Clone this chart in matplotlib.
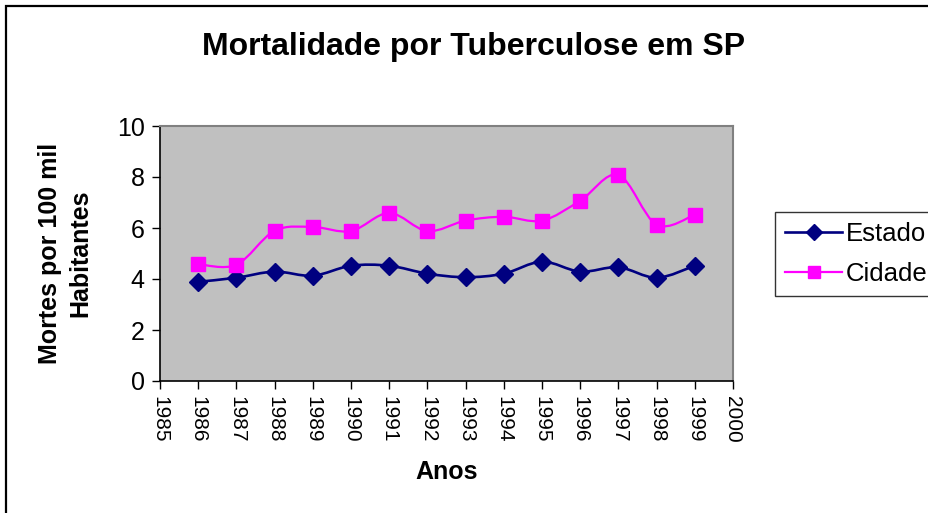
import matplotlib
matplotlib.use("Agg")
import matplotlib.pyplot as plt
from matplotlib.path import Path
from matplotlib.patches import PathPatch, Rectangle
from matplotlib.lines import Line2D
import numpy as np

plt.rcParams['font.family'] = ['Liberation Sans', 'DejaVu Sans']

anos = [1986, 1987, 1988, 1989, 1990, 1991, 1992, 1993, 1994, 1995, 1996, 1997, 1998, 1999]
estado = [3.89, 4.05, 4.29, 4.13, 4.52, 4.52, 4.21, 4.07, 4.21, 4.68, 4.29, 4.46, 4.05, 4.52]
cidade = [4.58, 4.56, 5.89, 6.04, 5.88, 6.59, 5.88, 6.29, 6.44, 6.29, 7.07, 8.08, 6.13, 6.52]
xticks = list(range(1985, 2001))
yticks = [0, 2, 4, 6, 8, 10]

titulo = "Mortalidade por Tuberculose em SP"
ylabel = "Mortes por 100 mil\nHabitantes"
xlabel = "Anos"
nomes = ["Estado", "Cidade"]


def smooth_path(xs, ys):
    pts = np.column_stack([xs, ys]).astype(float)
    n = len(pts)
    verts = [pts[0]]
    codes = [Path.MOVETO]
    for i in range(n - 1):
        p0 = pts[i - 1] if i > 0 else pts[i]
        p1 = pts[i]
        p2 = pts[i + 1]
        p3 = pts[i + 2] if i + 2 < n else pts[i + 1]
        c1 = p1 + (p2 - p0) / 6.0
        c2 = p2 - (p3 - p1) / 6.0
        verts += [c1, c2, p2]
        codes += [Path.CURVE4] * 3
    return Path(verts, codes)


W, H = 929, 513
fig = plt.figure(figsize=(W / 100, H / 100), dpi=100)
ax = fig.add_axes([160 / W, 1 - 381 / H, (733 - 160) / W, (381 - 126) / H])
ax.set_facecolor('#C0C0C0')

navy = '#000080'
mag = '#FF00FF'

ax.add_patch(PathPatch(smooth_path(anos, estado), fill=False, edgecolor=navy, lw=1.9, zorder=3))
ax.add_patch(PathPatch(smooth_path(anos, cidade), fill=False, edgecolor=mag, lw=1.6, zorder=3))
ax.plot(anos, estado, linestyle='none', marker='D', markersize=9.5, color=navy, zorder=4)
ax.plot(anos, cidade, linestyle='none', marker='s', markersize=9.5, color=mag, zorder=4)

ax.set_xlim(1985, 2000)
ax.set_ylim(0, 10)
ax.set_xticks(xticks)
ax.set_xticklabels([str(t) for t in xticks], rotation=270, fontsize=15)
ax.set_yticks(yticks)
ax.set_yticklabels([str(t) for t in yticks], fontsize=18)
ax.tick_params(direction='out', length=6, width=1, colors='black', pad=5)
ax.tick_params(axis='x', pad=5)

for s in ['left', 'bottom']:
    ax.spines[s].set_color('black')
    ax.spines[s].set_linewidth(1.2)
for s in ['top', 'right']:
    ax.spines[s].set_color('#808080')
    ax.spines[s].set_linewidth(1.5)

fig.text(447 / W, 1 - 472 / H, xlabel, fontsize=18, fontweight='bold', ha='center', va='center')
fig.text(65 / W, 1 - 253 / H, ylabel, fontsize=18, fontweight='bold', ha='center', va='center',
         rotation=90, multialignment='center', linespacing=1.32)
fig.text(474 / W, 1 - 47 / H, titulo, fontsize=23, fontweight='bold', ha='center', va='center')

handles = [
    Line2D([], [], color=navy, lw=1.9, marker='D', markersize=8),
    Line2D([], [], color=mag, lw=1.6, marker='s', markersize=8),
]
leg = fig.legend(handles, nomes, loc='upper left', bbox_to_anchor=(775 / W, 1 - 212 / H),
                 fontsize=18.5, frameon=True, fancybox=False, handlelength=2.2,
                 borderpad=0.4, labelspacing=0.62, handletextpad=0.15, borderaxespad=0)
leg.get_frame().set_edgecolor('black')
leg.get_frame().set_linewidth(1.0)

fig.patches.append(Rectangle((6 / W, -0.1), 1.2, 1 - 6 / H + 0.1, transform=fig.transFigure,
                             fill=False, edgecolor='black', lw=1.6, zorder=0))

fig.savefig('out.png', dpi=100)
